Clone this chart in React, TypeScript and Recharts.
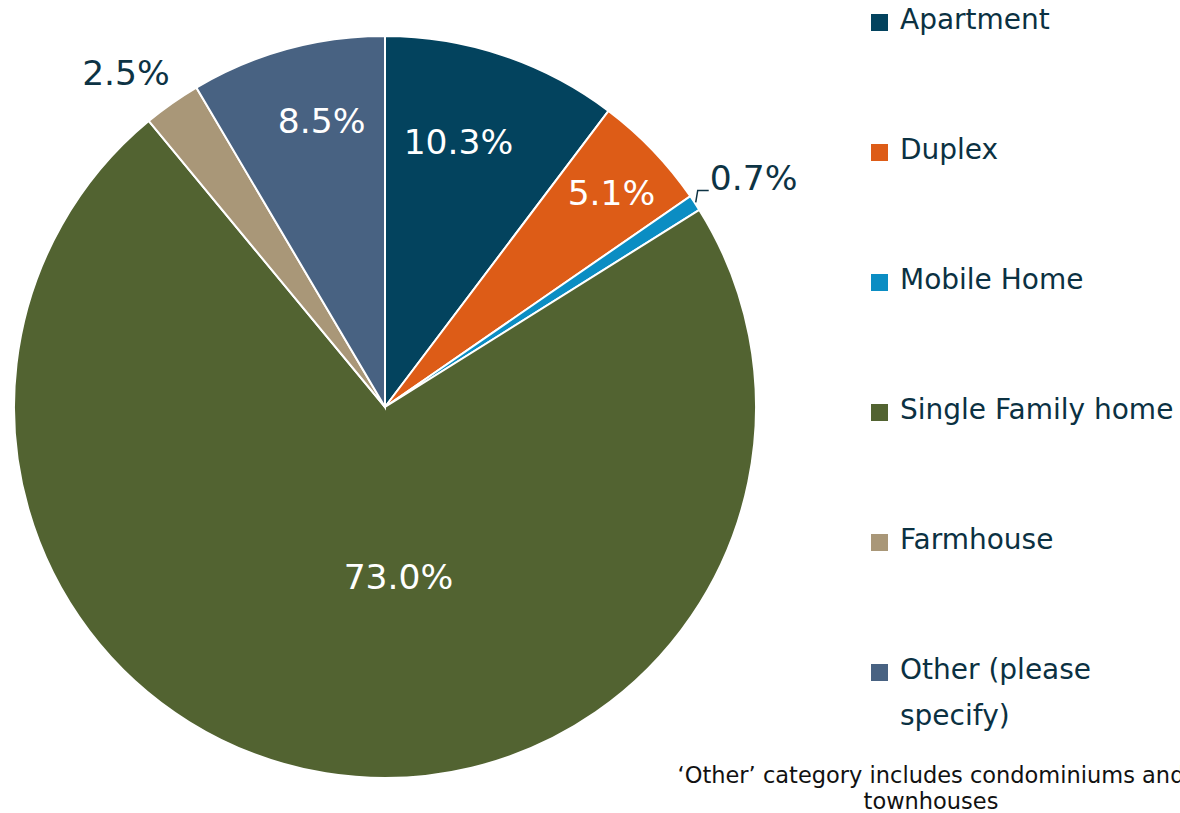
import React from "react";
import { PieChart, Pie, Cell, Legend } from "recharts";

const categories = [
  "Apartment",
  "Duplex",
  "Mobile Home",
  "Single Family home",
  "Farmhouse",
  "Other (please specify)",
];
const shares = [10.3, 5.1, 0.7, 73.0, 2.5, 8.5];
const shareLabels = ["10.3%", "5.1%", "0.7%", "73.0%", "2.5%", "8.5%"];
const footnote = ["\u2018Other\u2019 category includes condominiums and", "townhouses"];

const colors = ["#03435e", "#dd5c17", "#0b8dc3", "#526331", "#a99778", "#486282"];

// label placement: radius factor, angle nudge (deg), outside?
const placement = [
  { rf: 0.74, da: 3, out: false },
  { rf: 0.84, da: -0.4, out: false },
  { rf: 1.17, da: -1.5, out: true },
  { rf: 0.46, da: 13.7, out: false },
  { rf: 1.14, da: 2.7, out: true },
  { rf: 0.79, da: -2.8, out: false },
];

const data = categories.map((name, i) => ({ name, value: shares[i], label: shareLabels[i] }));

const RAD = Math.PI / 180;
const FONT = "'DejaVu Sans', Verdana, sans-serif";

function renderLabel(props: any) {
  const { cx, cy, midAngle, outerRadius, index } = props;
  const p = placement[index];
  const a = (midAngle + p.da) * RAD;
  const x = cx + outerRadius * p.rf * Math.cos(a);
  const y = cy - outerRadius * p.rf * Math.sin(a);
  let leader = null;
  if (index === 2) {
    const m = midAngle * RAD;
    const x1 = cx + (outerRadius + 1) * Math.cos(m);
    const y1 = cy - (outerRadius + 1) * Math.sin(m);
    leader = (
      <polyline
        points={`${x1},${y1} ${x1 + 2},${y1 - 12} ${x1 + 13},${y1 - 12}`}
        fill="none"
        stroke="#0d3344"
        strokeWidth={1.5}
      />
    );
  }
  return (
    <g key={`lbl-${index}`}>
      {leader}
      <text
        x={x}
        y={y}
        textAnchor="middle"
        dominantBaseline="central"
        fill={p.out ? "#0d3344" : "#ffffff"}
        style={{ fontFamily: FONT, fontSize: 34.5 }}
      >
        {shareLabels[index]}
      </text>
    </g>
  );
}

function LegendContent() {
  return (
    <div style={{ fontFamily: FONT }}>
      {categories.map((c, i) => (
        <div
          key={c}
          style={{ display: "flex", alignItems: "flex-start", height: 130 }}
        >
          <div
            style={{
              width: 17,
              height: 17,
              background: colors[i],
              marginTop: 17,
              marginRight: 12,
              flexShrink: 0,
            }}
          />
          <div
            style={{
              width: 285,
              fontSize: 28,
              lineHeight: "46px",
              color: "#0b3142",
            }}
          >
            {c}
          </div>
        </div>
      ))}
    </div>
  );
}

export default function App() {
  return (
    <div
      style={{
        position: "absolute",
        left: 0,
        top: 0,
        width: 1180,
        height: 813,
        overflow: "hidden",
        background: "#ffffff",
      }}
    >
      <PieChart width={1180} height={813} margin={{ top: 0, right: 0, bottom: 0, left: 0 }}>
        <Pie
          data={data}
          dataKey="value"
          nameKey="name"
          cx={385}
          cy={407}
          outerRadius={371}
          startAngle={90}
          endAngle={-270}
          stroke="#ffffff"
          strokeWidth={2}
          label={renderLabel}
          labelLine={false}
          isAnimationActive={false}
        >
          {data.map((d, i) => (
            <Cell key={d.name} fill={colors[i]} />
          ))}
        </Pie>
        <Legend
          content={<LegendContent />}
          wrapperStyle={{ position: "absolute", left: 871, top: -3, width: 310 }}
        />
      </PieChart>
      <div
        style={{
          position: "absolute",
          left: 631,
          top: 762,
          width: 600,
          textAlign: "center",
          fontFamily: FONT,
          fontSize: 22.5,
          lineHeight: "26px",
          color: "#111111",
          whiteSpace: "nowrap",
        }}
      >
        {footnote[0]}
        <br />
        {footnote[1]}
      </div>
    </div>
  );
}
